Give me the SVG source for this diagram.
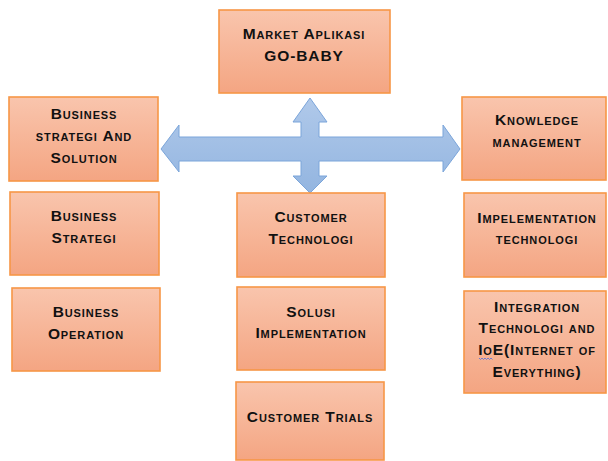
<svg xmlns="http://www.w3.org/2000/svg" width="608" height="461" viewBox="0 0 608 461">
<defs>
<linearGradient id="boxg" x1="0" y1="0" x2="0" y2="1">
<stop offset="0" stop-color="#f9c5ad"/>
<stop offset="1" stop-color="#f4a582"/>
</linearGradient>
<linearGradient id="arrg" x1="0" y1="0" x2="0" y2="1">
<stop offset="0" stop-color="#b0c9ea"/>
<stop offset="1" stop-color="#93b5e0"/>
</linearGradient>
<style>
.box{fill:url(#boxg);stroke:#f79646;stroke-width:1.6}
.t{font-family:"Liberation Sans",Arial,sans-serif;font-weight:bold;font-size:15.5px;font-variant:small-caps;letter-spacing:0.9px;fill:#111;text-anchor:middle}
</style>
</defs>
<rect width="608" height="461" fill="#ffffff"/>
<g id="connectors">
<path d="M310,98 L327,122 L319,122 L319,137 L443,137 L443,125 L460,149 L443,172 L443,161 L319,161 L319,176 L327,176 L310,193 L293,176 L301,176 L301,161 L179,161 L179,172 L161,149 L179,125 L179,137 L301,137 L301,122 L293,122 Z" fill="url(#arrg)" stroke="#7ba5da" stroke-width="1"/>
</g>
<g id="market">
<rect class="box" x="219" y="10" width="171" height="83"/>
<text class="t" x="304" y="39">Market Aplikasi</text>
<text class="t" x="304" y="61">GO-BABY</text>
</g>
<g id="bsas">
<rect class="box" x="9" y="97" width="149" height="84"/>
<text class="t" x="84" y="119">Business</text>
<text class="t" x="84" y="141">strategi And</text>
<text class="t" x="84" y="163">Solution</text>
</g>
<g id="knowledge">
<rect class="box" x="462" y="97" width="144" height="83"/>
<text class="t" x="537" y="125">Knowledge</text>
<text class="t" x="537" y="147">management</text>
</g>
<g id="bstrategi">
<rect class="box" x="10" y="192" width="149" height="83"/>
<text class="t" x="84" y="221">Business</text>
<text class="t" x="84" y="243">Strategi</text>
</g>
<g id="boperation">
<rect class="box" x="12" y="288" width="148" height="83"/>
<text class="t" x="86" y="317">Business</text>
<text class="t" x="86" y="339">Operation</text>
</g>
<g id="ctech">
<rect class="box" x="237" y="193" width="148" height="84"/>
<text class="t" x="311" y="222">Customer</text>
<text class="t" x="311" y="244">Technologi</text>
</g>
<g id="solusi">
<rect class="box" x="237" y="287" width="148" height="83"/>
<text class="t" x="311" y="317">Solusi</text>
<text class="t" x="311" y="338">Implementation</text>
</g>
<g id="trials">
<rect class="box" x="236" y="382" width="148" height="78"/>
<text class="t" x="310" y="422">Customer Trials</text>
</g>
<g id="impl">
<rect class="box" x="464" y="193" width="142" height="84"/>
<text class="t" x="537" y="223">Impelementation</text>
<text class="t" x="537" y="244">technologi</text>
</g>
<g id="integration">
<rect class="box" x="464" y="291" width="142" height="102"/>
<text class="t" x="537" y="312">Integration</text>
<text class="t" x="537" y="333">Technologi and</text>
<text class="t" x="537" y="355">IoE(Internet of</text>
<text class="t" x="537" y="377">Everything)</text>
<path d="M479,358 l1.5,1.5 l1.5,-1.5 l1.5,1.5 l1.5,-1.5 l1.5,1.5 l1.5,-1.5 l1.5,1.5 l1.5,-1.5 l1.5,1.5" fill="none" stroke="#4a6fe0" stroke-width="0.8"/>
</g>
</svg>
